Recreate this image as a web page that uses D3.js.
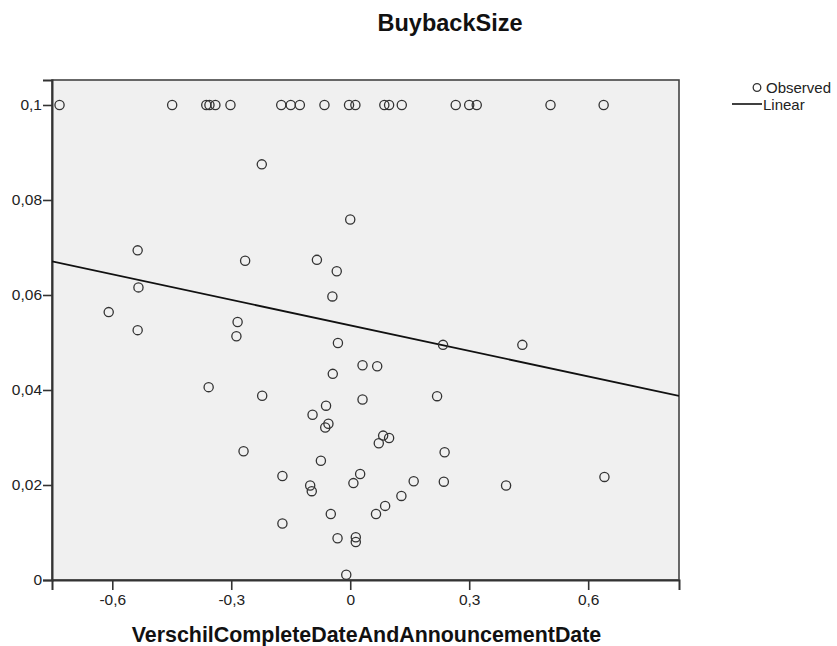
<!DOCTYPE html>
<html>
<head>
<meta charset="utf-8">
<script src="https://cdn.jsdelivr.net/npm/d3@7"></script>
<style>
  html, body { margin: 0; padding: 0; background: #ffffff; }
  svg { display: block; font-family: "Liberation Sans", Arial, sans-serif; }
</style>
</head>
<body>
<svg id="chart" width="837" height="646"></svg>
<script>
// ---- Data ----
const chartTitle = "BuybackSize";
const xAxisTitle = "VerschilCompleteDateAndAnnouncementDate";

// Observed points: x = VerschilCompleteDateAndAnnouncementDate, y = BuybackSize
const obsX = [
  -0.733, -0.449, -0.363, -0.355, -0.340, -0.302, -0.174, -0.150, -0.127, -0.065,
  -0.003, 0.013, 0.086, 0.098, 0.130, 0.266, 0.300, 0.319, 0.505, 0.639,
  -0.223, 0.000, -0.536, -0.265, -0.084, -0.034, -0.534, -0.045, -0.609, -0.284,
  -0.287, -0.536, -0.031, 0.234, 0.434, 0.031, 0.068, -0.044, -0.357, -0.222,
  0.219, 0.031, -0.061, -0.095, -0.055, -0.063, 0.083, 0.098, 0.072, -0.269,
  0.238, -0.074, -0.171, 0.025, 0.008, -0.101, -0.097, 0.160, 0.236, 0.393,
  0.641, 0.129, 0.088, 0.065, -0.049, -0.171, -0.032, 0.014, 0.014, -0.010
];
const obsY = [
  0.1, 0.1, 0.1, 0.1, 0.1, 0.1, 0.1, 0.1, 0.1, 0.1,
  0.1, 0.1, 0.1, 0.1, 0.1, 0.1, 0.1, 0.1, 0.1, 0.1,
  0.0875, 0.0759, 0.0694, 0.0672, 0.0674, 0.0650, 0.0616, 0.0597, 0.0564, 0.0543,
  0.0513, 0.0526, 0.0499, 0.0495, 0.0495, 0.0452, 0.0450, 0.0434, 0.0406, 0.0388,
  0.0387, 0.0380, 0.0367, 0.0348, 0.0329, 0.0321, 0.0304, 0.0299, 0.0288, 0.0271,
  0.0269, 0.0251, 0.0219, 0.0223, 0.0204, 0.0199, 0.0187, 0.0208, 0.0207, 0.0199,
  0.0217, 0.0177, 0.0156, 0.0139, 0.0139, 0.0119, 0.0088, 0.0090, 0.0080, 0.0011
];

// Linear fit
const linearIntercept = 0.0536;
const linearSlope = -0.0179;

// Axis domains and ticks
const xDomain = [-0.752, 0.829];
const yDomain = [0, 0.10526];
const xTickValues = [-0.6, -0.3, 0, 0.3, 0.6];
const xTickLabels = ["-0,6", "-0,3", "0", "0,3", "0,6"];
const yTickValues = [0, 0.02, 0.04, 0.06, 0.08, 0.1];
const yTickLabels = ["0", "0,02", "0,04", "0,06", "0,08", "0,1"];

const legendLabels = ["Observed", "Linear"];

// ---- Drawing ----
const svg = d3.select("#chart");
const plot = { left: 52, right: 679, top: 80, bottom: 580 };

const x = d3.scaleLinear().domain(xDomain).range([plot.left, plot.right]);
const y = d3.scaleLinear().domain(yDomain).range([plot.bottom, plot.top]);

// plot background
svg.append("rect")
  .attr("x", plot.left).attr("y", plot.top)
  .attr("width", plot.right - plot.left).attr("height", plot.bottom - plot.top)
  .attr("fill", "#f0f0f0")
  .attr("stroke", "#444").attr("stroke-width", 1.6);

// clip for the plot
svg.append("clipPath").attr("id", "clip")
  .append("rect")
  .attr("x", plot.left).attr("y", plot.top)
  .attr("width", plot.right - plot.left).attr("height", plot.bottom - plot.top);

// axes
const xAxis = d3.axisBottom(x)
  .tickValues(xTickValues)
  .tickFormat((d, i) => xTickLabels[i])
  .tickSize(10).tickPadding(4);
const yAxis = d3.axisLeft(y)
  .tickValues(yTickValues)
  .tickFormat((d, i) => yTickLabels[i])
  .tickSize(9).tickPadding(1);

const gx = svg.append("g").attr("transform", `translate(0,${plot.bottom})`).call(xAxis);
const gy = svg.append("g").attr("transform", `translate(${plot.left},0)`).call(yAxis);

[gx, gy].forEach(g => {
  g.select(".domain").attr("stroke", "#333").attr("stroke-width", 2);
  g.selectAll(".tick line").attr("stroke", "#333").attr("stroke-width", 1.6);
  g.selectAll(".tick text")
    .attr("fill", "#222")
    .style("font-family", "'Liberation Sans', Arial, sans-serif")
    .style("font-size", "15.5px");
});

// linear fit line
svg.append("line")
  .attr("clip-path", "url(#clip)")
  .attr("x1", x(xDomain[0])).attr("y1", y(linearIntercept + linearSlope * xDomain[0]))
  .attr("x2", x(xDomain[1])).attr("y2", y(linearIntercept + linearSlope * xDomain[1]))
  .attr("stroke", "#111").attr("stroke-width", 1.8);

// observed points
const pts = obsX.map((v, i) => ({ x: v, y: obsY[i] }));
svg.append("g").selectAll("circle")
  .data(pts).join("circle")
  .attr("cx", d => x(d.x)).attr("cy", d => y(d.y))
  .attr("r", 4.6)
  .attr("fill", "none")
  .attr("stroke", "#333")
  .attr("stroke-width", 1.3);

// title
svg.append("text")
  .attr("x", 450).attr("y", 31)
  .attr("text-anchor", "middle")
  .style("font-size", "23.5px").style("font-weight", "bold")
  .attr("fill", "#111")
  .text(chartTitle);

// x axis title
svg.append("text")
  .attr("x", (plot.left + plot.right) / 2 + 1).attr("y", 642)
  .attr("text-anchor", "middle")
  .style("font-size", "21.4px").style("font-weight", "bold")
  .attr("fill", "#111")
  .text(xAxisTitle);

// legend
const lg = svg.append("g");
lg.append("circle").attr("cx", 757).attr("cy", 87.5).attr("r", 3.8)
  .attr("fill", "none").attr("stroke", "#333").attr("stroke-width", 1.3);
lg.append("text").attr("x", 766).attr("y", 92.5)
  .style("font-size", "15px").attr("fill", "#222").text(legendLabels[0]);
lg.append("line").attr("x1", 732).attr("x2", 762).attr("y1", 104).attr("y2", 104)
  .attr("stroke", "#111").attr("stroke-width", 1.6);
lg.append("text").attr("x", 763).attr("y", 109.5)
  .style("font-size", "15px").attr("fill", "#222").text(legendLabels[1]);
</script>
</body>
</html>
